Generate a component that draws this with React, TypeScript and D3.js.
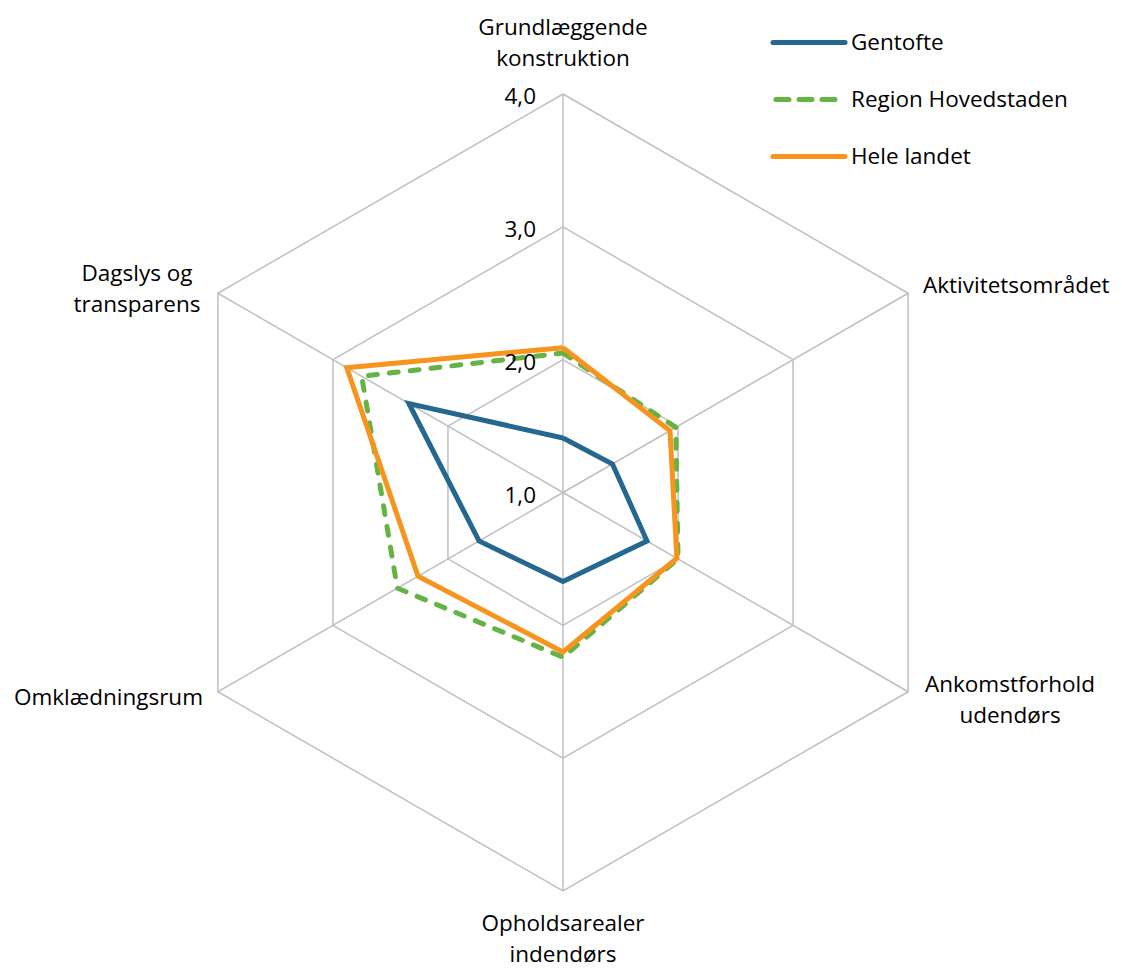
import { useEffect, useRef } from 'react';
import * as d3 from 'd3';

const axes = [
  ['Grundlæggende', 'konstruktion'],
  ['Aktivitetsområdet'],
  ['Ankomstforhold', 'udendørs'],
  ['Opholdsarealer', 'indendørs'],
  ['Omklædningsrum'],
  ['Dagslys og', 'transparens'],
];
const gentofte = [1.41, 1.43, 1.73, 1.67, 1.73, 2.34];
const regionH = [2.05, 1.98, 2.0, 2.24, 2.44, 2.75];
const heleLandet = [2.09, 1.93, 1.99, 2.2, 2.26, 2.88];
const ticks = [1, 2, 3, 4];
const tickLabels = ['1,0', '2,0', '3,0', '4,0'];

const series = [
  { name: 'Gentofte', values: gentofte, color: '#24688F', dash: null },
  { name: 'Region Hovedstaden', values: regionH, color: '#65B345', dash: '9 12' },
  { name: 'Hele landet', values: heleLandet, color: '#F7941E', dash: null },
];

const W = 1122;
const H = 969;
const FONT = '"Open Sans", sans-serif';
const FS = '22.5px';

export default function App() {
  const svgRef = useRef<SVGSVGElement>(null);

  useEffect(() => {
    document.body.style.margin = '0';
    if (!svgRef.current) return;
    const svg = d3.select(svgRef.current);
    svg.selectAll('*').remove();

    const cx = 563;
    const cy = 492.5;
    const r = d3.scaleLinear().domain([1, 4]).range([0, 398.5]);
    const angle = d3.scaleLinear().domain([0, axes.length]).range([0, 2 * Math.PI]);
    const pt = (i: number, v: number): [number, number] => [
      cx + r(v) * Math.sin(angle(i)),
      cy - r(v) * Math.cos(angle(i)),
    ];

    const g = svg.append('g');

    // grid rings
    ticks.slice(1).forEach(t => {
      const pts = axes.map((_, i) => pt(i, t));
      g.append('path')
        .attr('d', d3.line()(pts.concat([pts[0]])))
        .attr('fill', 'none')
        .attr('stroke', '#BFBFBF')
        .attr('stroke-width', 1.5);
    });

    // spokes
    axes.forEach((_, i) => {
      const [x, y] = pt(i, 4);
      g.append('line')
        .attr('x1', cx).attr('y1', cy).attr('x2', x).attr('y2', y)
        .attr('stroke', '#BFBFBF')
        .attr('stroke-width', 1.5);
    });

    // series
    series.forEach(s => {
      const pts = s.values.map((v, i) => pt(i, v));
      g.append('path')
        .attr('d', d3.line()(pts.concat([pts[0]])))
        .attr('fill', 'none')
        .attr('stroke', s.color)
        .attr('stroke-width', 5)
        .attr('stroke-linejoin', 'miter')
        .attr('stroke-linecap', s.dash ? 'round' : 'butt')
        .attr('stroke-dasharray', s.dash);
    });

    // tick labels
    ticks.forEach((t, i) => {
      g.append('text')
        .attr('x', cx - 27)
        .attr('y', cy - r(t) + 2.5)
        .attr('dy', '0.35em')
        .attr('text-anchor', 'end')
        .style('font-family', FONT)
        .style('font-size', FS)
        .style('fill', '#000')
        .text(tickLabels[i]);
    });

    // axis labels
    const labelPos: { x: number; y: number; anchor: string }[] = [
      { x: 563, y: 35, anchor: 'middle' },
      { x: 923, y: 293, anchor: 'start' },
      { x: 1010, y: 692, anchor: 'middle' },
      { x: 563, y: 931, anchor: 'middle' },
      { x: 203, y: 705, anchor: 'end' },
      { x: 137, y: 281, anchor: 'middle' },
    ];
    axes.forEach((lines, i) => {
      const p = labelPos[i];
      const t = g.append('text')
        .attr('text-anchor', p.anchor)
        .style('font-family', FONT)
        .style('font-size', FS)
        .style('fill', '#000');
      lines.forEach((ln, j) => {
        t.append('tspan').attr('x', p.x).attr('y', p.y + j * 31).text(ln);
      });
    });

    // legend
    const legend = svg.append('g');
    series.forEach((s, i) => {
      const y = 42.5 + i * 57;
      legend.append('line')
        .attr('x1', s.dash ? 776 : 773).attr('x2', s.dash ? 836 : 845)
        .attr('y1', y).attr('y2', y)
        .attr('stroke', s.color)
        .attr('stroke-width', 5)
        .attr('stroke-linecap', 'round')
        .attr('stroke-dasharray', s.dash ? '13 10' : null);
      legend.append('text')
        .attr('x', 851)
        .attr('y', y)
        .attr('dy', '0.35em')
        .style('font-family', FONT)
        .style('font-size', FS)
        .style('fill', '#000')
        .text(s.name);
    });
  }, []);

  return <svg ref={svgRef} width={W} height={H} style={{ display: 'block', background: '#fff' }} />;
}
